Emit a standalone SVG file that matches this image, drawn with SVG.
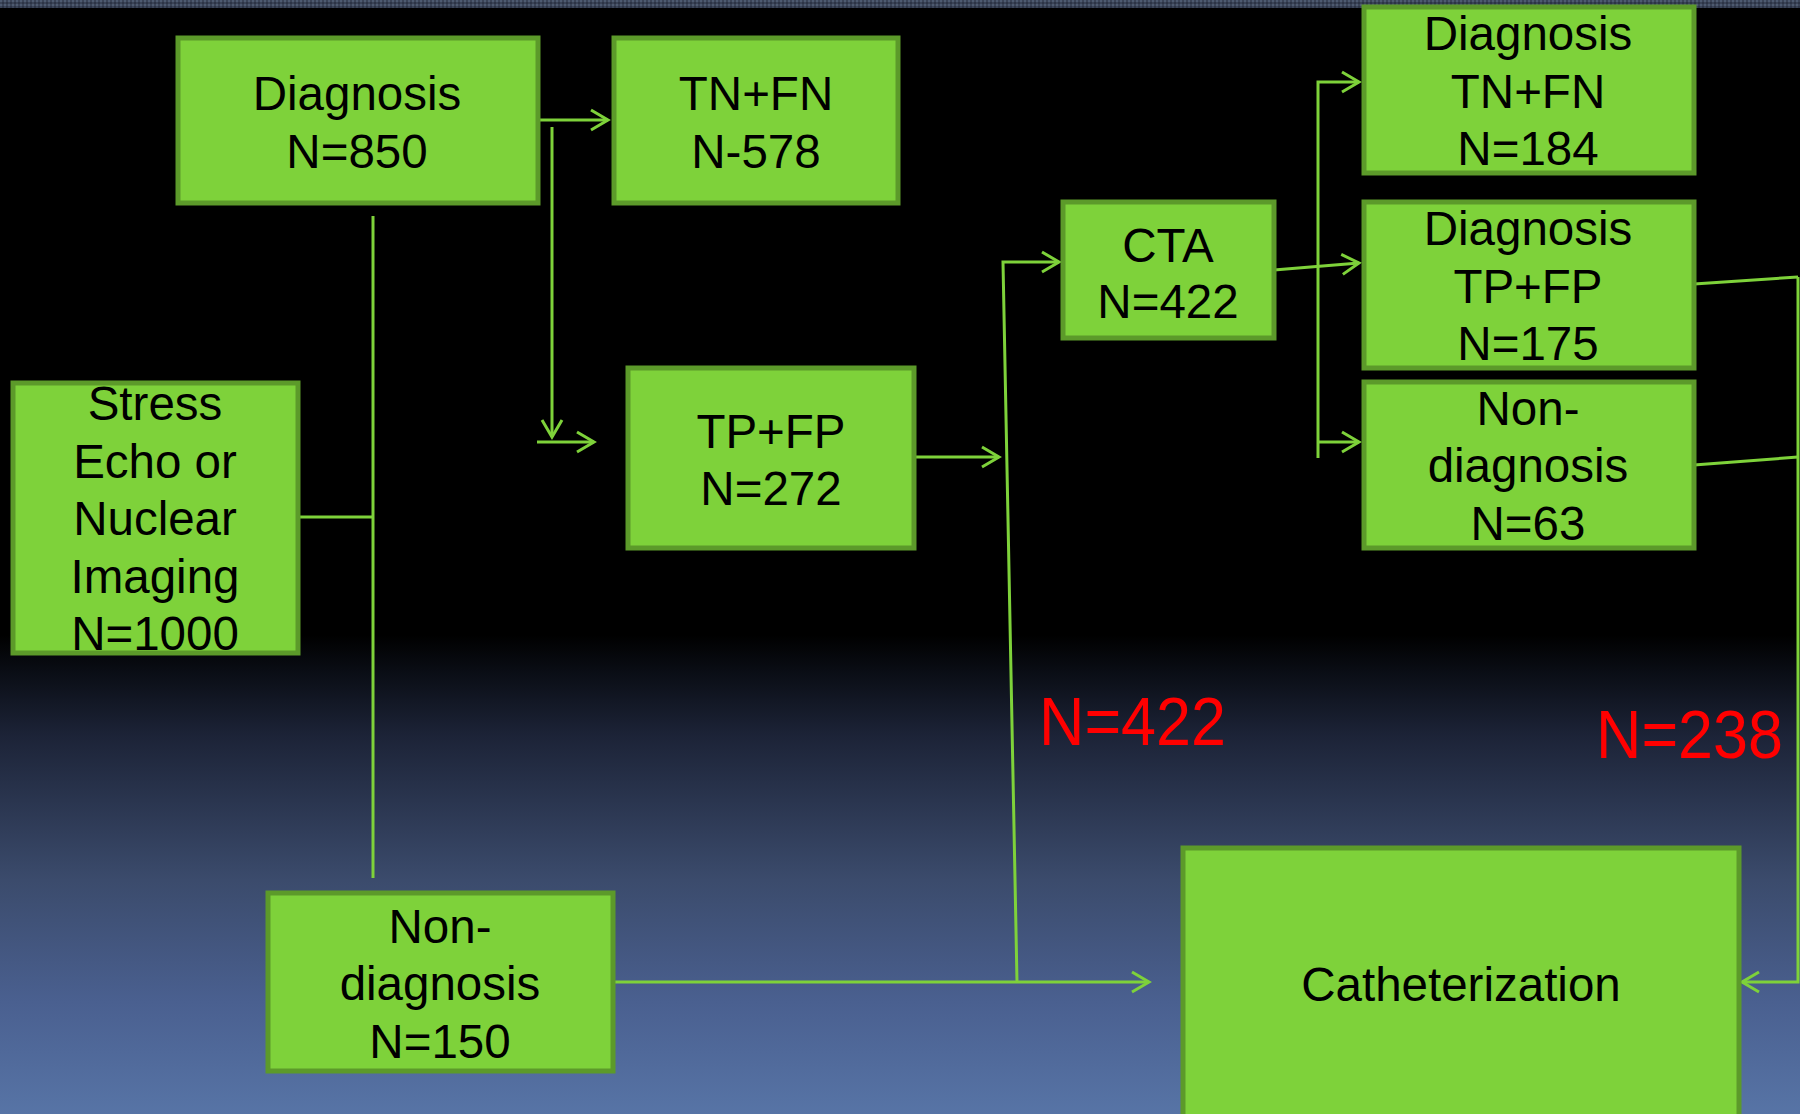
<svg xmlns="http://www.w3.org/2000/svg" width="1800" height="1114" viewBox="0 0 1800 1114">
<defs>
<linearGradient id="bg" gradientUnits="userSpaceOnUse" x1="0" y1="0" x2="0" y2="1114">
<stop offset="0" stop-color="#000000"/>
<stop offset="0.57" stop-color="#000000"/>
<stop offset="0.6" stop-color="#090c13"/>
<stop offset="0.66" stop-color="#1c2337"/>
<stop offset="0.79" stop-color="#3b4b6c"/>
<stop offset="0.9" stop-color="#4a6090"/>
<stop offset="1" stop-color="#5774a6"/>
</linearGradient>
<pattern id="strip" width="4" height="4" patternUnits="userSpaceOnUse">
<rect width="4" height="4" fill="#3a4356"/>
<rect width="2" height="2" fill="#4d5a70"/>
<rect x="2" y="2" width="2" height="2" fill="#2c3446"/>
</pattern>
<marker id="arr" markerUnits="userSpaceOnUse" markerWidth="24" markerHeight="24" viewBox="-20 -12 24 24" refX="0" refY="0" orient="auto" overflow="visible">
<path d="M-17,-10 L0,0 L-17,10" fill="none" stroke="#7ed23a" stroke-width="3"/>
</marker>
<style>
.box{fill:#7ed23a;stroke:#5c9a2a;stroke-width:5}
.t{font-family:"Liberation Sans",Arial,sans-serif;font-size:47.5px;fill:#000;text-anchor:middle}
.c{fill:none;stroke:#7ed23a;stroke-width:3}
.red{font-family:"Liberation Sans",Arial,sans-serif;font-size:68px;fill:#ff0000}
</style>
</defs>
<rect x="0" y="0" width="1800" height="1114" fill="url(#bg)"/>
<rect x="0" y="0" width="1800" height="8" fill="url(#strip)"/>

<g id="connectors">
<line class="c" x1="538" y1="120" x2="608" y2="120" marker-end="url(#arr)"/>
<line class="c" x1="552" y1="127" x2="552" y2="437" marker-end="url(#arr)"/>
<line class="c" x1="537" y1="442" x2="594" y2="442" marker-end="url(#arr)"/>
<line class="c" x1="373" y1="216" x2="373" y2="878"/>
<line class="c" x1="298" y1="517" x2="373" y2="517"/>
<line class="c" x1="914" y1="457" x2="999" y2="457" marker-end="url(#arr)"/>
<polyline class="c" points="1017,982 1003,262 1059,262" marker-end="url(#arr)"/>
<line class="c" x1="613" y1="982" x2="1149" y2="982" marker-end="url(#arr)"/>
<line class="c" x1="1274" y1="270" x2="1359" y2="263" marker-end="url(#arr)"/>
<polyline class="c" points="1318,458 1318,82 1359,82" marker-end="url(#arr)"/>
<line class="c" x1="1318" y1="442" x2="1359" y2="442" marker-end="url(#arr)"/>
<polyline class="c" points="1694,284 1798,277"/>
<polyline class="c" points="1694,465 1798,457"/>
<polyline class="c" points="1798,277 1798,982 1742,982" marker-end="url(#arr)"/>
</g>

<g id="n-diag850">
<rect class="box" x="178" y="38" width="360" height="165"/>
<text class="t" x="357" y="110">Diagnosis</text>
<text class="t" x="357" y="168">N=850</text>
</g>
<g id="n-tnfn578">
<rect class="box" x="614" y="38" width="284" height="165"/>
<text class="t" x="756" y="110">TN+FN</text>
<text class="t" x="756" y="168">N-578</text>
</g>
<g id="n-tpfp272">
<rect class="box" x="628" y="368" width="286" height="180"/>
<text class="t" x="771" y="448">TP+FP</text>
<text class="t" x="771" y="505">N=272</text>
</g>
<g id="n-stress">
<rect class="box" x="13" y="383" width="285" height="270"/>
<text class="t" x="155" y="420">Stress</text>
<text class="t" x="155" y="478">Echo or</text>
<text class="t" x="155" y="535">Nuclear</text>
<text class="t" x="155" y="593">Imaging</text>
<text class="t" x="155" y="650">N=1000</text>
</g>
<g id="n-nondiag150">
<rect class="box" x="268" y="893" width="345" height="178"/>
<text class="t" x="440" y="943">Non-</text>
<text class="t" x="440" y="1000">diagnosis</text>
<text class="t" x="440" y="1058">N=150</text>
</g>
<g id="n-cta">
<rect class="box" x="1063" y="202" width="211" height="136"/>
<text class="t" x="1168" y="262">CTA</text>
<text class="t" x="1168" y="318">N=422</text>
</g>
<g id="n-diag184">
<rect class="box" x="1364" y="7" width="330" height="166"/>
<text class="t" x="1528" y="50">Diagnosis</text>
<text class="t" x="1528" y="108">TN+FN</text>
<text class="t" x="1528" y="165">N=184</text>
</g>
<g id="n-diag175">
<rect class="box" x="1364" y="202" width="330" height="166"/>
<text class="t" x="1528" y="245">Diagnosis</text>
<text class="t" x="1528" y="303">TP+FP</text>
<text class="t" x="1528" y="360">N=175</text>
</g>
<g id="n-nondiag63">
<rect class="box" x="1364" y="382" width="330" height="166"/>
<text class="t" x="1528" y="425">Non-</text>
<text class="t" x="1528" y="482">diagnosis</text>
<text class="t" x="1528" y="540">N=63</text>
</g>
<g id="n-cath">
<rect class="box" x="1183" y="848" width="556" height="280"/>
<text class="t" x="1461" y="1001">Catheterization</text>
</g>

<text class="red" x="1039" y="745" textLength="187" lengthAdjust="spacingAndGlyphs">N=422</text>
<text class="red" x="1596" y="758" textLength="187" lengthAdjust="spacingAndGlyphs">N=238</text>
</svg>
